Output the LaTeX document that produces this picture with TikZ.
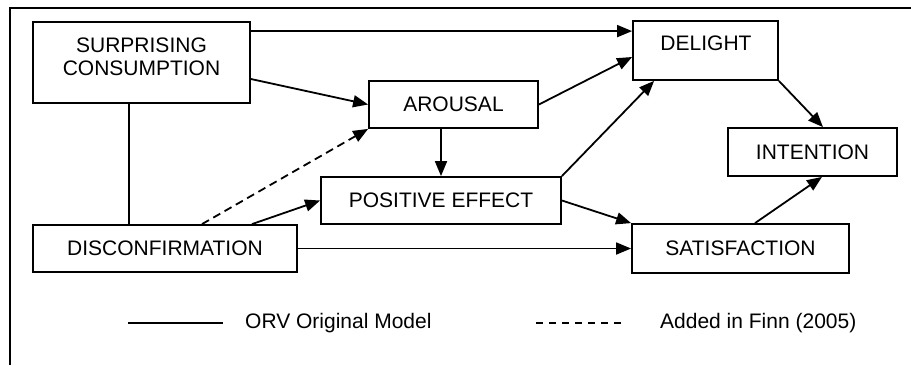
\documentclass[tikz,border=0pt]{standalone}
\usepackage{fontspec}
\setmainfont{Liberation Sans}
\usetikzlibrary{arrows.meta}
\begin{document}
\begin{tikzpicture}[x=1pt,y=-1pt,
  every node/.style={font=\fontsize{21}{23}\selectfont},
  box/.style={draw,line width=1.8pt,inner sep=0pt,anchor=center},
  lbl/.style={inner sep=0pt,anchor=center,align=center},
  conn/.style={line width=1.8pt},
  arr/.style={conn,-{Triangle[length=15pt,width=12pt]}},
  dsh/.style={dash pattern=on 8pt off 5pt}]
\useasboundingbox (0,0) rectangle (911,365);
% outer frame (top and left sides only)
\draw[line width=1.9pt] (911,8) -- (10,8) -- (10,365);
% boxes
\node[box,minimum width=217pt,minimum height=81pt] (sc) at (141.5,62.5) {};
\node[lbl] (sctext) at (141.5,57) {SURPRISING\\CONSUMPTION};
\node[box,minimum width=169pt,minimum height=47pt] (aro) at (453.5,104.5) {AROUSAL};
\node[box,minimum width=145pt,minimum height=59pt] (dl) at (705.5,50.5) {};
\node[lbl] (dltext) at (706,43) {DELIGHT};
\node[box,minimum width=169pt,minimum height=48pt] (int) at (812.5,152) {INTENTION};
\node[box,minimum width=240pt,minimum height=47pt] (pe) at (441,200.5) {POSITIVE EFFECT};
\node[box,minimum width=264pt,minimum height=47pt] (disc) at (165,248.5) {DISCONFIRMATION};
\node[box,minimum width=217pt,minimum height=49pt] (sat) at (740.5,248.5) {SATISFACTION};
% connectors
\draw[arr] ([yshift=-10pt]sc.north east) -- ([yshift=-10pt]sc.north east -| dl.west);
\draw[arr] ([yshift=-16.5pt]sc.east) -- (aro.west);
\draw[arr] (aro.east) -- ([yshift=-6.5pt]dl.west);
\draw[arr] (pe.north east) -- ([xshift=22pt]dl.south west);
\draw[arr] (dl.south east) -- ([xshift=10.5pt]int.north);
\draw[arr] (aro.south -| pe.north) -- (pe.north);
\draw[conn] ([xshift=-12.5pt]sc.south) -- ([xshift=-12.5pt]sc.south |- disc.north);
\draw[arr,dsh] ([xshift=37pt]disc.north) -- (aro.south west);
\draw[arr] ([xshift=87pt]disc.north) -- (pe.west);
\draw[arr] (disc.east) -- (sat.west);
\draw[arr] (pe.east) -- (sat.north west);
\draw[arr] ([xshift=14.5pt]sat.north) -- ([xshift=9.5pt]int.south);
% legend
\coordinate (l1a) at (128,323);
\coordinate (l1b) at (223,323);
\draw[conn,line width=1.4pt] (l1a) -- (l1b);
\node[inner sep=0pt,anchor=west] (l1t) at (245,323) {ORV Original Model};
\coordinate (l2a) at (536,323);
\coordinate (l2b) at (626,323);
\draw[conn,line width=1.4pt,dash pattern=on 7pt off 6pt] (l2a) -- (l2b);
\node[inner sep=0pt,anchor=west] (l2t) at (660,323) {Added in Finn (2005)};
\end{tikzpicture}
\end{document}
